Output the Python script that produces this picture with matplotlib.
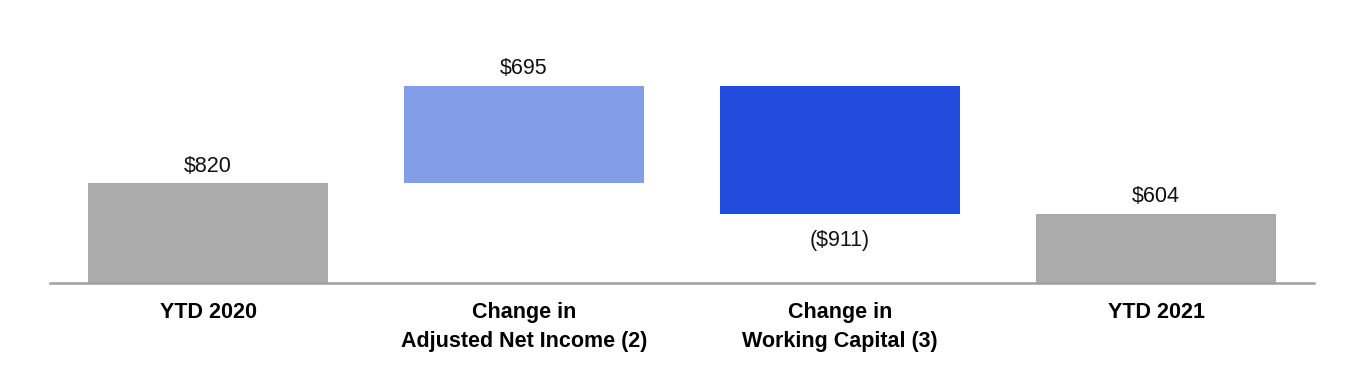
import numpy as np
import matplotlib.pyplot as plt

plt.rcParams['font.family'] = ['Liberation Sans', 'DejaVu Sans']

categories = ['YTD 2020', 'Change in\nAdjusted Net Income (2)',
              'Change in\nWorking Capital (3)', 'YTD 2021']
start_value = 820
changes = [695, -911]
end_value = 604
value_labels = ['$820', '$695', '($911)', '$604']
colors = ['#ABABAB', '#829EE8', '#224CDD', '#ABABAB']

# waterfall bottoms/heights
ymin = 110
bottoms = [ymin]
heights = [start_value - ymin]
level = start_value
for ch in changes:
    if ch >= 0:
        bottoms.append(level)
        heights.append(ch)
    else:
        bottoms.append(level + ch)
        heights.append(-ch)
    level += ch
bottoms.append(ymin)
heights.append(end_value - ymin)

fig = plt.figure(figsize=(13.64, 3.70), dpi=100)
ax = fig.add_axes([50/1364, 87/370, 1264/1364, 283/370])

x = np.arange(len(categories))
ax.bar(x, heights, bottom=bottoms, width=0.76, color=colors)

allv = [start_value] + changes + [end_value]
for i, (b, h, v) in enumerate(zip(bottoms, heights, allv)):
    if v >= 0:
        ax.annotate(value_labels[i], (x[i], b + h), xytext=(0, 4.5),
                    textcoords='offset points', ha='center', va='bottom',
                    fontsize=15.5, color='#111111')
    else:
        ax.annotate(value_labels[i], (x[i], b), xytext=(0, -12),
                    textcoords='offset points', ha='center', va='top',
                    fontsize=15.5, color='#111111')

ax.set_xlim(-0.5, 3.5)
ax.set_ylim(ymin, 2125)
ax.set_xticks(x)
ax.set_xticklabels(categories, fontsize=15.5, fontweight='bold', linespacing=1.5)
ax.tick_params(axis='x', length=0, pad=14)
ax.set_yticks([])
for s in ['top', 'right', 'left']:
    ax.spines[s].set_visible(False)
ax.spines['bottom'].set_color('#A0A0A0')
ax.spines['bottom'].set_linewidth(1.8)

fig.savefig('out.png', dpi=100)
